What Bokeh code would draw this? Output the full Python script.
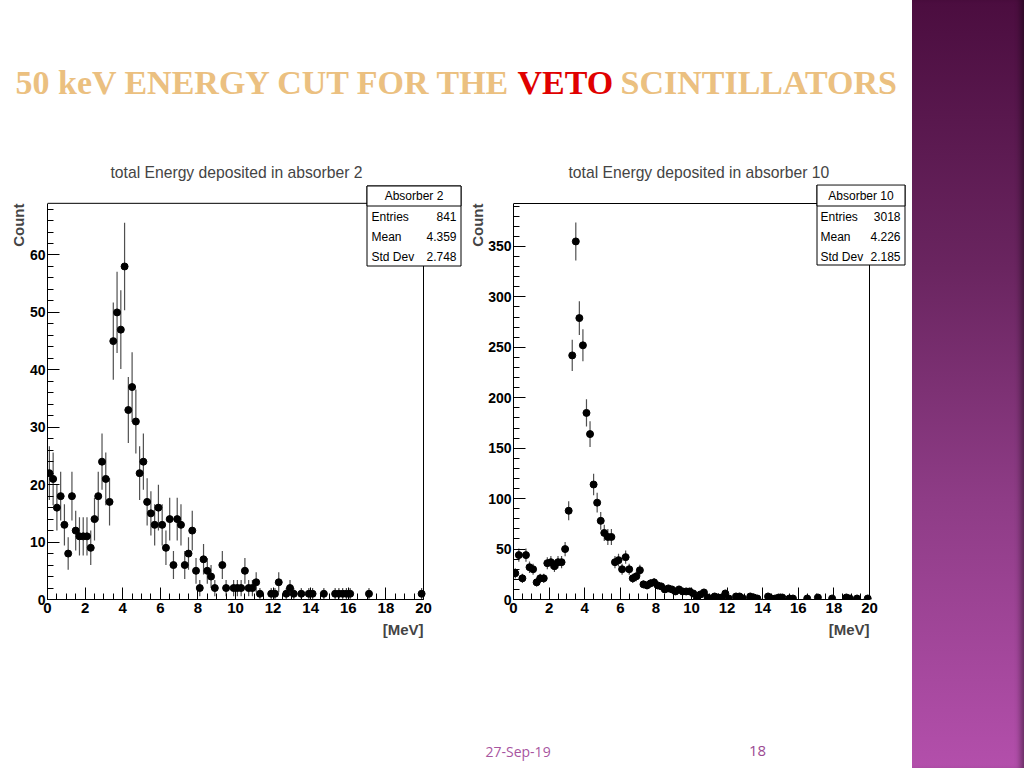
import numpy as np
from bokeh.plotting import figure
from bokeh.models import Range1d, SingleIntervalTicker, Label, BoxAnnotation, Div, ColumnDataSource, Title
from bokeh.layouts import row, column
from bokeh.embed import file_html
from bokeh.resources import INLINE

# ---------------- data ----------------
slide_title_parts = ["50 keV ENERGY CUT FOR THE", "VETO", "SCINTILLATORS"]
footer_date = "27-Sep-19"
footer_page = "18"

title_a2 = "total Energy deposited in absorber 2"
stats_a2 = {"name": "Absorber 2", "Entries": "841", "Mean": "4.359", "Std Dev": "2.748"}
energy_a2 = [0.1, 0.3, 0.5, 0.7, 0.9, 1.1, 1.3, 1.5, 1.7, 1.9,
             2.1, 2.3, 2.5, 2.7, 2.9, 3.1, 3.3, 3.5, 3.7, 3.9,
             4.1, 4.3, 4.5, 4.7, 4.9, 5.1, 5.3, 5.5, 5.7, 5.9,
             6.1, 6.3, 6.5, 6.7, 6.9, 7.1, 7.3, 7.5, 7.7, 7.9,
             8.1, 8.3, 8.5, 8.7, 8.9, 9.3, 9.5,
             9.9, 10.1, 10.3, 10.5, 10.7, 10.9, 11.1, 11.3,
             11.9, 12.1, 12.3, 12.7, 12.9, 13.1, 13.5, 13.9, 14.1, 14.7,
             15.3, 15.5, 15.7, 15.9, 16.1, 17.1, 19.9]
count_a2 = [22, 21, 16, 18, 13, 8, 18, 12, 11, 11,
            11, 9, 14, 18, 24, 21, 17, 45, 50, 47,
            58, 33, 37, 31, 22, 24, 17, 15, 13, 16,
            13, 9, 14, 6, 14, 13, 6, 8, 12, 5,
            2, 7, 5, 4, 2, 6, 2,
            2, 2, 2, 5, 2, 2, 3, 1,
            1, 1, 3, 1, 2, 1, 1, 1, 1, 1,
            1, 1, 1, 1, 1, 1, 1]

title_a10 = "total Energy deposited in absorber 10"
stats_a10 = {"name": "Absorber 10", "Entries": "3018", "Mean": "4.226", "Std Dev": "2.185"}
energy_a10 = [0.1, 0.3, 0.5, 0.7, 0.9, 1.1, 1.3, 1.5, 1.7, 1.9,
              2.1, 2.3, 2.5, 2.7, 2.9, 3.1, 3.3, 3.5, 3.7, 3.9,
              4.1, 4.3, 4.5, 4.7, 4.9, 5.1, 5.3, 5.5, 5.7, 5.9,
              6.1, 6.3, 6.5, 6.7, 6.9, 7.1, 7.3, 7.5, 7.7, 7.9,
              8.1, 8.3, 8.5, 8.7, 8.9, 9.1, 9.3, 9.5, 9.7, 9.9,
              10.1, 10.3, 10.5, 10.7, 10.9,
              11.1, 11.3, 11.5, 11.7, 11.9, 12.1, 12.5, 12.7, 12.9,
              13.3, 13.5, 13.7, 14.3, 14.5, 14.7, 14.9, 15.1, 15.5, 15.7,
              16.5, 17.1, 17.9, 18.7, 18.9, 19.3, 19.9]
count_a10 = [26, 44, 21, 44, 32, 30, 17, 21, 21, 36,
             37, 33, 37, 37, 50, 88, 242, 355, 279, 252,
             185, 164, 114, 96, 78, 66, 62, 62, 37, 39,
             30, 42, 30, 21, 23, 29, 15, 14, 16, 17,
             14, 13, 10, 11, 10, 8, 10, 8, 8, 8,
             6, 2, 5, 7, 2,
             1, 3, 2, 2, 6, 1, 3, 3, 1,
             3, 2, 1, 3, 1, 1, 2, 2, 1, 1,
             1, 2, 1, 2, 1, 1, 1]

# ---------------- style / layout constants ----------------
SANS = "Liberation Sans"
GOLD = "#EBC080"
RED = "#E00000"
PINK = "#A8559F"

PAGE_W, PAGE_H = 912, 768
TOP_H = 138
PLOT_H = 520
XMAX_AXIS = 20.0


def hist_figure(x0, width, ax_l, ax_r, ax_b, ax_t, ymax_axis, fr, ft, ytick,
                xs, ys, title, title_left, stats, box):
    """Page-pixel geometry: axis spans ax_l..ax_r (x 0..20) and ax_b..ax_t (y 0..ymax_axis);
    the drawing frame extends to fr (right) and ft (top) so the stats box fits in it."""
    y0 = TOP_H
    px_x = (ax_r - ax_l) / XMAX_AXIS
    px_y = (ax_b - ax_t) / ymax_axis
    x_end = (fr - ax_l) / px_x
    y_end = (ax_b - ft) / px_y

    p = figure(width=width, height=PLOT_H, x_range=Range1d(0, x_end), y_range=Range1d(0, y_end),
               min_border_left=ax_l - x0, min_border_right=x0 + width - fr,
               min_border_top=ft - y0, min_border_bottom=y0 + PLOT_H - ax_b,
               output_backend="svg", toolbar_location=None)
    p.grid.visible = False
    p.outline_line_color = None
    p.background_fill_color = "white"
    p.border_fill_color = "white"

    p.xaxis.ticker = SingleIntervalTicker(interval=2, num_minor_ticks=4)
    p.yaxis.ticker = SingleIntervalTicker(interval=ytick, num_minor_ticks=5)
    p.xaxis.bounds = (0, XMAX_AXIS)
    p.yaxis.bounds = (0, ymax_axis)
    for ax in (p.xaxis, p.yaxis):
        ax.major_tick_in = 12
        ax.major_tick_out = 0
        ax.minor_tick_in = 6
        ax.minor_tick_out = 0
        ax.axis_line_color = "black"
        ax.major_tick_line_color = "black"
        ax.minor_tick_line_color = "black"
        ax.major_label_text_font = SANS
        ax.major_label_text_font_style = "bold"
        ax.major_label_text_color = "black"
        ax.major_label_standoff = 3
    p.xaxis.major_label_text_font_size = "15px"
    p.yaxis.major_label_text_font_size = "14px"
    p.yaxis.major_label_standoff = 2

    # remaining two sides of the ROOT frame
    p.segment(x0=[0, XMAX_AXIS], y0=[ymax_axis, 0], x1=[XMAX_AXIS, XMAX_AXIS],
              y1=[ymax_axis, ymax_axis], line_color="black", line_width=1)

    err = np.sqrt(np.array(ys, dtype=float))
    src = ColumnDataSource(dict(x=xs, y=ys, lo=np.array(ys) - err, hi=np.array(ys) + err))
    p.segment(x0="x", y0="lo", x1="x", y1="hi", source=src, line_color="#505050", line_width=1.2)
    p.scatter(x="x", y="y", source=src, size=7, color="black")

    # pad title
    p.title.text = title
    p.title.align = "left"
    p.title.offset = title_left - ax_l
    p.title.text_font = SANS
    p.title.text_font_style = "normal"
    p.title.text_font_size = "15.7px"
    p.title.standoff = 8
    # y title at top of the y axis
    p.add_layout(Title(text="Count", align="right", offset=(ax_t - ft), text_font=SANS,
                       text_font_style="bold", text_font_size="15px", standoff=0), "left")
    # x title at end of the x axis
    p.add_layout(Title(text="[MeV]", align="right", offset=(fr - ax_r), text_font=SANS,
                       text_font_style="bold", text_font_size="15px", standoff=6), "below")

    # stats box (canvas units: x from left, y from top of this figure)
    l, r, t, sep, b, tl, tr = box
    common = dict(left_units="canvas", right_units="canvas", top_units="canvas",
                  bottom_units="canvas", fill_color="white", fill_alpha=1, line_color="black",
                  line_alpha=1, line_width=1, line_dash="solid")
    p.add_layout(BoxAnnotation(left=l - x0, right=r - x0, top=t - y0, bottom=b - y0, **common))
    p.add_layout(BoxAnnotation(left=l - x0, right=r - x0, top=t - y0, bottom=sep - y0, **common))
    lab = dict(x_units="canvas", y_units="canvas", text_baseline="middle", text_font=SANS,
               text_font_size="12px", text_color="black")
    p.add_layout(Label(x=(l + r) / 2 - x0, y=(t + sep) / 2 - y0, text=stats["name"],
                       text_align="center", **lab))
    for i, key in enumerate(["Entries", "Mean", "Std Dev"]):
        yy = sep + 10.5 + 20 * i - y0
        p.add_layout(Label(x=tl - x0, y=yy, text=key, text_align="left", **lab))
        p.add_layout(Label(x=tr - x0, y=yy, text=stats[key], text_align="right", **lab))
    return p


p1 = hist_figure(0, 465, 47, 423, 603, 203, 69.0, 462, 184, 10,
                 energy_a2, count_a2, title_a2, 110, stats_a2,
                 (366.5, 460.5, 185.5, 205.5, 265.5, 371, 456))
p2 = hist_figure(465, 447, 513, 869, 599, 203, 392.6, 906, 184, 50,
                 energy_a10, count_a10, title_a10, 568, stats_a10,
                 (816.5, 904.5, 184.5, 205.5, 264.5, 820, 900))

# slide title strip
top = figure(width=PAGE_W, height=TOP_H, x_range=Range1d(0, PAGE_W), y_range=Range1d(0, TOP_H),
             x_axis_type=None, y_axis_type=None, min_border=0, output_backend="svg",
             toolbar_location=None, outline_line_color=None, title=None)
top.grid.visible = False
for txt, xpos, col in zip(slide_title_parts, [15, 517, 620], [GOLD, RED, GOLD]):
    top.add_layout(Label(x=xpos, y=TOP_H - 82, text=txt, text_align="left",
                         text_baseline="middle", text_font="Liberation Serif",
                         text_font_style="bold", text_font_size="34px", text_color=col))

# footer strip
FOOT_H = PAGE_H - TOP_H - PLOT_H
foot = figure(width=PAGE_W, height=FOOT_H, x_range=Range1d(0, PAGE_W), y_range=Range1d(0, FOOT_H),
              x_axis_type=None, y_axis_type=None, min_border=0, output_backend="svg",
              toolbar_location=None, outline_line_color=None, title=None)
foot.grid.visible = False
foot.add_layout(Label(x=485, y=PAGE_H - 751, text=footer_date, text_align="left",
                      text_baseline="middle", text_font="Open Sans", text_font_size="14px",
                      text_color=PINK))
foot.add_layout(Label(x=757, y=PAGE_H - 750, text=footer_page, text_align="center",
                      text_baseline="middle", text_font="Open Sans", text_font_size="15px",
                      text_color="#9B4A92"))

bar = Div(width=1024 - PAGE_W, height=PAGE_H, text="", margin=0,
          styles={"background": "linear-gradient(to bottom, #4b0d3f 0%, #6a2560 35%, #8e3c86 65%, #b34fab 100%)",
                  "box-shadow": "inset -7px 0 6px -4px rgba(0,0,0,0.45)"})

layout = row(column(top, row(p1, p2), foot), bar)

open("out.html", "w").write(file_html(layout, INLINE))
